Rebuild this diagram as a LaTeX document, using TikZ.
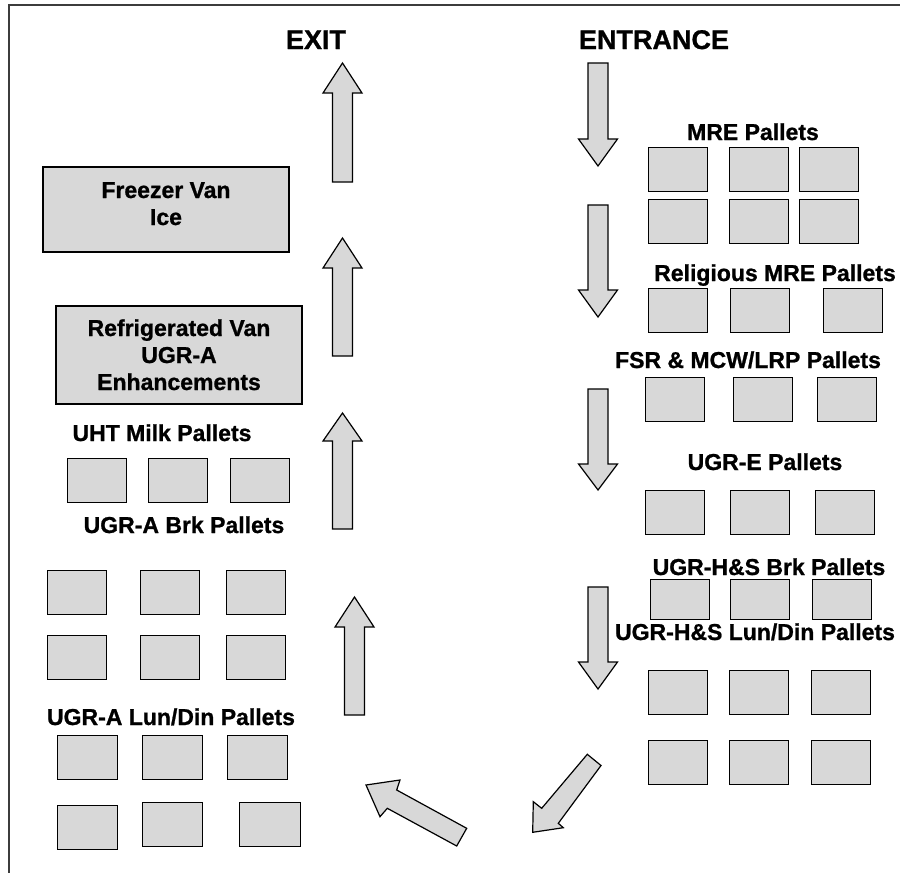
\documentclass[tikz,border=0pt]{standalone}
\usepackage{fontspec}
\setmainfont{Liberation Sans}[BoldFeatures={FakeBold=1}]
\definecolor{palletgray}{RGB}{216,216,216}
\definecolor{framegray}{RGB}{60,60,60}

% vertical block arrows: name, centre x, y of tail/tip, y of head base, y of tip/tail
\newcommand\uparrowblock[5]{%
  \draw[blockarrow] ({#2-10},#5) -- ({#2-10},#4) -- ({#2-19.5},#4) -- (#2,#3)
    coordinate (#1) -- ({#2+19.5},#4) -- ({#2+10},#4) -- ({#2+10},#5) -- cycle;}
\newcommand\downarrowblock[5]{%
  \draw[blockarrow] ({#2-10},#3) -- ({#2-10},#4) -- ({#2-19.5},#4) -- (#2,#5)
    coordinate (#1) -- ({#2+19.5},#4) -- ({#2+10},#4) -- ({#2+10},#3) -- cycle;}

\begin{document}
\begin{tikzpicture}[x=1pt,y=-1pt,
  pallet/.style={draw=black,line width=1.4pt,fill=palletgray,inner sep=0pt,
    anchor=north west,minimum width=59pt,minimum height=44pt},
  vanbox/.style={draw=black,line width=1.4pt,fill=palletgray},
  blockarrow/.style={draw=black,line width=1.2pt,fill=palletgray,line join=miter},
  lbl/.style={font=\fontsize{23}{27}\selectfont\bfseries,inner sep=0pt,anchor=base},
  heading/.style={font=\fontsize{27}{32}\selectfont\bfseries,inner sep=0pt,anchor=base}]
\useasboundingbox (0,0) rectangle (900,873);

% frame
\draw[line width=1.6pt,framegray] (9,873) -- (9,5) -- (900,5);

% headings
\node[heading] (exit) at (316,49) {EXIT};
\node[heading] (entrance) at (654,49) {ENTRANCE};

% ---------- right side: inbound lanes ----------
\node[lbl] (mre) at (753,140) {MRE Pallets};
\foreach \x [count=\i] in {648,729,799} {
  \node[pallet] (mreA\i) at (\x,147) {};
  \node[pallet] (mreB\i) at (\x,199) {};
}
\node[lbl] (rel) at (775,281) {Religious MRE Pallets};
\foreach \x [count=\i] in {648,730,823}
  \node[pallet] (rel\i) at (\x,288) {};
\node[lbl] (fsr) at (748,368) {FSR \& MCW/LRP Pallets};
\foreach \x [count=\i] in {645,733,817}
  \node[pallet] (fsr\i) at (\x,377) {};
\node[lbl] (ugre) at (765,470) {UGR-E Pallets};
\foreach \x [count=\i] in {645,730,815}
  \node[pallet] (ugre\i) at (\x,490) {};
\node[lbl] (hsbrk) at (769,575) {UGR-H\&S Brk Pallets};
\foreach \x [count=\i] in {650,730,812}
  \node[pallet,minimum height=40pt] (hsbrk\i) at (\x,579) {};
\node[lbl] (hsld) at (755,640) {UGR-H\&S Lun/Din Pallets};
\foreach \x [count=\i] in {648,729,811} {
  \node[pallet] (hsldA\i) at (\x,670) {};
  \node[pallet] (hsldB\i) at (\x,740) {};
}

% ---------- left side: outbound lanes ----------
\node[vanbox,minimum width=246pt,minimum height=85pt] (freezer) at (166,209.5) {};
\node[lbl] (freezerA) at (166,198) {Freezer Van};
\node[lbl] (freezerB) at (166,225) {Ice};

\node[vanbox,minimum width=246pt,minimum height=98pt] (reefer) at (179,355) {};
\node[lbl] (reeferA) at (179,336) {Refrigerated Van};
\node[lbl] (reeferB) at (179,363) {UGR-A};
\node[lbl] (reeferC) at (179,390) {Enhancements};

\node[lbl] (uht) at (162,441) {UHT Milk Pallets};
\foreach \x [count=\i] in {67,148,230}
  \node[pallet] (uht\i) at (\x,458) {};
\node[lbl] (abrk) at (184,533) {UGR-A Brk Pallets};
\foreach \x [count=\i] in {47,140,226} {
  \node[pallet] (abrkA\i) at (\x,570) {};
  \node[pallet] (abrkB\i) at (\x,635) {};
}
\node[lbl] (ald) at (171,725) {UGR-A Lun/Din Pallets};
\foreach \x [count=\i] in {57,142,227}
  \node[pallet,minimum width=60pt] (aldA\i) at (\x,735) {};
\node[pallet,minimum width=60pt] (aldB1) at (57,805) {};
\node[pallet,minimum width=60pt] (aldB2) at (142,802) {};
\node[pallet,minimum width=61pt] (aldB3) at (239,802) {};

% ---------- flow arrows ----------
\downarrowblock{d1}{598}{63}{139}{166}
\downarrowblock{d2}{598}{205}{290}{317}
\downarrowblock{d3}{598}{389}{464}{490}
\downarrowblock{d4}{598}{587}{662}{689}

\draw[blockarrow] (587.3,754.3) -- (541.7,808.3) -- (533.3,801.7) -- (532.7,832.3)
  coordinate (turnA) -- (563.3,827.7) -- (558.3,823.3) -- (601,765.5) -- cycle;
\draw[blockarrow] (466.7,828.3) -- (396.7,790) -- (400,780) -- (366,785)
  coordinate (turnB) -- (380,816.7) -- (387.3,808.3) -- (456.7,846) -- cycle;

\uparrowblock{u4}{354.5}{597}{627}{715}
\uparrowblock{u3}{342.5}{413}{441}{529}
\uparrowblock{u2}{342.5}{238}{268}{356}
\uparrowblock{u1}{342.5}{63}{93}{182}
\end{tikzpicture}
\end{document}
